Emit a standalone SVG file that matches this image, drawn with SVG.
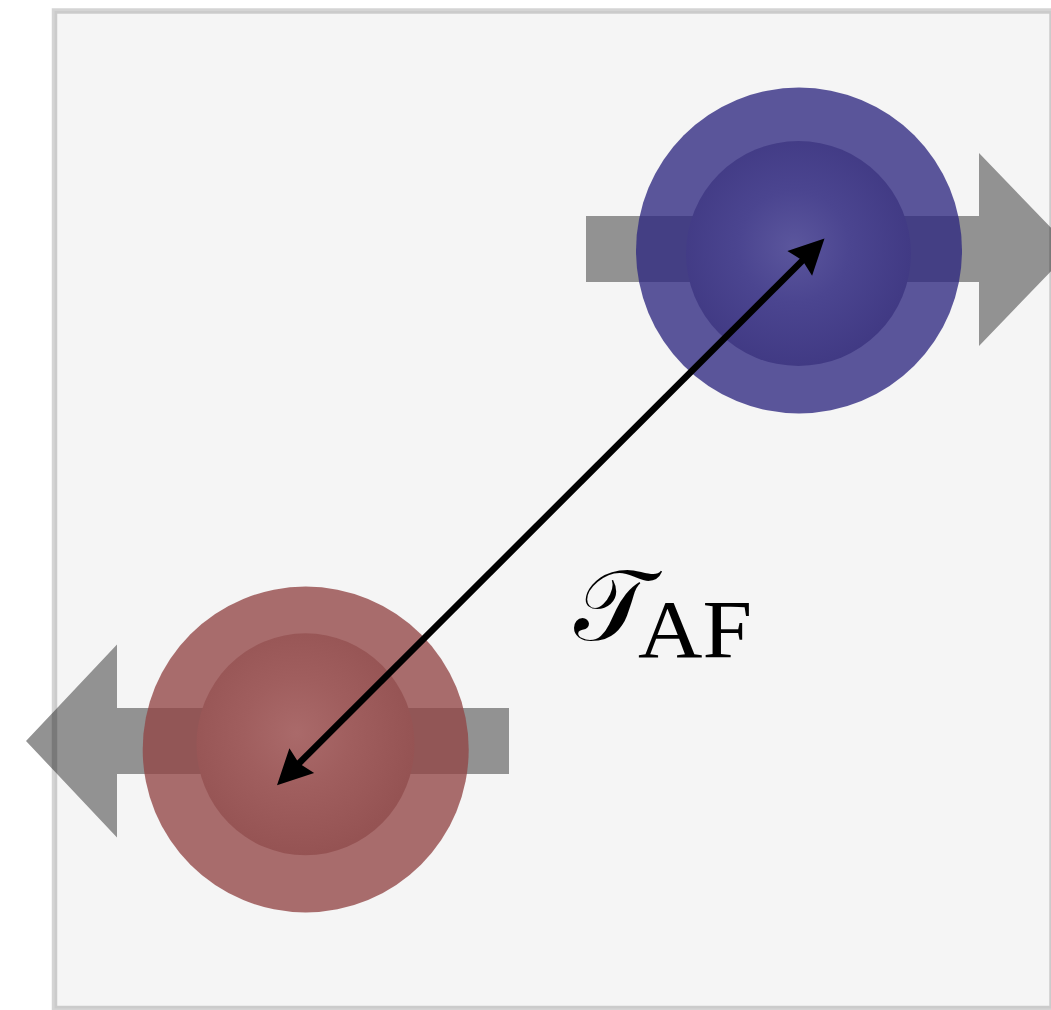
<svg xmlns="http://www.w3.org/2000/svg" width="1051" height="1010" viewBox="0 0 1051 1010">
  <style>
    .spin { fill: #929292; }
    .lbl { font-family: "Liberation Serif", "DejaVu Serif", serif; fill: #000; }
    .conn { stroke: #000; stroke-width: 6.5; fill: none; }
  </style>
  <defs>
    <radialGradient id="gBlue" cx="0.48" cy="0.47" r="0.55">
      <stop offset="0" stop-color="#5b569d"/>
      <stop offset="0.45" stop-color="#4b4590"/>
      <stop offset="1" stop-color="#403983"/>
    </radialGradient>
    <radialGradient id="gRed" cx="0.46" cy="0.45" r="0.55">
      <stop offset="0" stop-color="#aa6a6a"/>
      <stop offset="0.45" stop-color="#a05e5e"/>
      <stop offset="1" stop-color="#955353"/>
    </radialGradient>
    <marker id="head" markerUnits="userSpaceOnUse" orient="auto-start-reverse" refX="0" refY="0" overflow="visible" markerWidth="1" markerHeight="1">
      <path d="M25,0 L-10,-17.5 L-6,0 L-10,17.5 Z" fill="#000"/>
    </marker>
  </defs>

  <rect id="frame-bg" x="54.5" y="11" width="997.5" height="997.5" fill="#f5f5f5"/>

  <g id="spin-blue">
    <polygon class="spin" points="586,216 979,216 979,153 1072,249.5 979,346 979,282 586,282"/>
  </g>
  <g id="spin-red">
    <polygon class="spin" points="509,708 117,708 117,644.5 26,741 117,837.5 117,774 509,774"/>
  </g>

  <g id="atom-blue">
    <circle cx="799" cy="250.5" r="163" fill="#2e2880" fill-opacity="0.78"/>
    <ellipse cx="798.5" cy="253.5" rx="112.5" ry="112.5" fill="url(#gBlue)"/>
  </g>
  <g id="atom-red">
    <circle cx="305.7" cy="749.5" r="163" fill="#924545" fill-opacity="0.78"/>
    <ellipse cx="305.5" cy="744.3" rx="109" ry="111" fill="url(#gRed)"/>
  </g>

  <rect id="frame" x="54.5" y="11" width="997.5" height="997.5" fill="none" stroke="#000" stroke-opacity="0.17" stroke-width="5.5"/>

  <g id="connectors">
    <path class="conn" d="M294.7,767.6 L806.8,256.2" marker-start="url(#head)" marker-end="url(#head)"/>
  </g>

  <g id="label">
    <text class="lbl"><tspan x="574" y="640" font-size="100">𝒯</tspan><tspan x="638" y="657" font-size="82" textLength="114" lengthAdjust="spacingAndGlyphs">AF</tspan></text>
  </g>
</svg>
